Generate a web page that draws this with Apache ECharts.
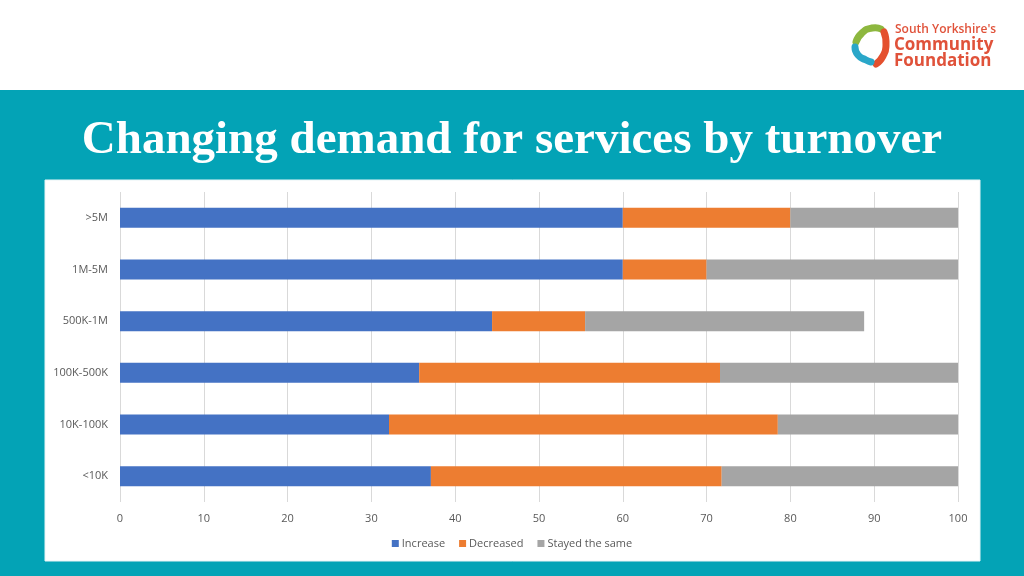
<!DOCTYPE html>
<html><head><meta charset="utf-8">
<script src="https://cdn.jsdelivr.net/npm/echarts@6/dist/echarts.min.js"></script>
<style>html,body{margin:0;padding:0;background:#fff}#c{width:1024px;height:576px}</style>
</head><body><div id="c"></div>
<script>
const categories = ['<10K', '10K-100K', '100K-500K', '500K-1M', '1M-5M', '>5M'];
const increase = [37.1, 32.1, 35.7, 44.4, 60, 60];
const decreased = [34.7, 46.4, 35.9, 11.1, 10, 20];
const stayedSame = [28.2, 21.5, 28.4, 33.3, 30, 20];
const seriesNames = ['Increase', 'Decreased', 'Stayed the same'];
const colors = ['#4472C4', '#ED7D31', '#A5A5A5'];
const xTicks = {min: 0, max: 100, interval: 10};

const chart = echarts.init(document.getElementById('c'));
const mk = (name, data, color) => ({
  name, type: 'bar', stack: 'a', data, barWidth: 20,
  itemStyle: {color}, emphasis: {disabled: true}
});
chart.setOption({
  animation: false,
  backgroundColor: '#fff',
  graphic: [
    {type: 'rect', shape: {x: 0, y: 90, width: 1024, height: 486}, style: {fill: '#03A3B6'}, z: -10},
    {type: 'rect', shape: {x: 45, y: 180, width: 935, height: 381}, style: {fill: '#fff', stroke: '#e8f4f6', lineWidth: 1}, z: -9},
    {type: 'text', left: 'center', top: 117, style: {text: 'Changing demand for services by turnover', fill: '#fff', font: 'bold 47px "Liberation Serif", "DejaVu Serif", serif'}, z: 5},
    // logo
    {type: 'polyline', shape: {points: [[856, 42], [862, 33], [872, 28], [881, 29]], smooth: 0.6}, style: {stroke: '#8DB73F', lineWidth: 7, lineCap: 'round', fill: null}, z: 5},
    {type: 'polyline', shape: {points: [[884, 32], [886, 45], [883, 56], [876, 64]], smooth: 0.6}, style: {stroke: '#E4502E', lineWidth: 7, lineCap: 'round', fill: null}, z: 5},
    {type: 'polyline', shape: {points: [[855, 47], [858, 55], [866, 60], [871, 62]], smooth: 0.6}, style: {stroke: '#2AA7C9', lineWidth: 7, lineCap: 'round', fill: null}, z: 5},
    {type: 'text', left: 895, top: 24, style: {text: "South Yorkshire's", fill: '#E0523A', font: '600 12px "Open Sans", sans-serif'}, z: 5},
    {type: 'text', left: 894, top: 37, style: {text: 'Community', fill: '#E0523A', font: 'bold 17px "Open Sans", sans-serif'}, z: 5},
    {type: 'text', left: 894, top: 53, style: {text: 'Foundation', fill: '#E0523A', font: 'bold 17px "Open Sans", sans-serif'}, z: 5}
  ],
  grid: {left: 120, right: 66, top: 192, bottom: 74, containLabel: false},
  xAxis: {
    type: 'value', min: xTicks.min, max: xTicks.max, interval: xTicks.interval,
    axisLine: {show: false}, axisTick: {show: false},
    axisLabel: {color: '#595959', fontSize: 11, margin: 11, fontFamily: '"Open Sans", sans-serif'},
    splitLine: {lineStyle: {color: '#D9D9D9', width: 1}}
  },
  yAxis: {
    type: 'category', data: categories,
    axisLine: {show: false}, axisTick: {show: false},
    axisLabel: {color: '#595959', fontSize: 11, margin: 12, fontFamily: '"Open Sans", sans-serif'}
  },
  legend: {
    bottom: 22, left: 'center', itemWidth: 7, itemHeight: 7, itemGap: 14, icon: 'rect',
    textStyle: {color: '#595959', fontSize: 11, fontFamily: '"Open Sans", sans-serif', padding: [0, 0, 0, -2]},
    data: seriesNames
  },
  series: [
    mk(seriesNames[0], increase, colors[0]),
    mk(seriesNames[1], decreased, colors[1]),
    mk(seriesNames[2], stayedSame, colors[2])
  ]
});
</script></body></html>
